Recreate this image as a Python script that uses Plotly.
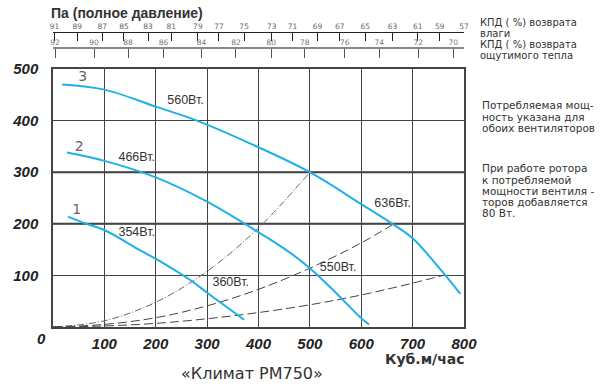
import plotly.graph_objects as go

# ---- data ----
c3_x = [18, 100, 200, 280, 383, 500, 600, 662, 700, 763, 793]
c3_y = [470, 460, 427, 400, 356, 300, 238, 199, 172, 101, 64]
c2_x = [27, 100, 200, 300, 383, 450, 500, 550, 600, 615]
c2_y = [338, 322, 290, 243, 194, 152, 114, 67, 17, 5]
c1_x = [29, 65, 100, 169, 202, 267, 302, 372]
c1_y = [214, 200, 188, 149, 131, 91, 65, 14]

sysA_x = [0, 100, 200, 300, 400, 500]
sysA_y = [0, 12, 48, 108, 192, 300]
sysB_x = [0, 100, 200, 300, 400, 500, 600, 662]
sysB_y = [0, 5, 18, 41, 73, 114, 163, 199]
sysC_x = [0, 100, 200, 300, 400, 500, 600, 700, 763]
sysC_y = [0, 2, 7, 16, 28, 43, 62, 85, 101]

curve_names = ["1", "2", "3"]
curve_name_x = [46, 51, 58]
curve_name_y = [225, 347, 483]

watt_labels = ["560Вт.", "466Вт.", "354Вт.", "360Вт.", "550Вт.", "636Вт."]
watt_x = [258, 163, 163, 346, 555, 661]
watt_y = [439, 327, 183, 85, 115, 238]

x_ticks = [100, 200, 300, 400, 500, 600, 700, 800]
y_ticks = [100, 200, 300, 400, 500]

hum_labels = [91, 89, 87, 85, 83, 81, 79, 77, 75, 73, 71, 69, 67, 65, 63, 61, 59, 57]
hum_pos = [3, 47, 96, 138, 185, 230, 282, 323, 372, 426, 466, 515, 558, 608, 661, 710, 753, 800]
heat_labels = [92, 90, 88, 86, 84, 82, 80, 78, 76, 74, 72, 70]
heat_pos = [4, 80, 146, 215, 289, 356, 425, 490, 568, 635, 711, 779]

thick_grid_y = [200, 300]

BLUE = "#1fb0e6"
TXT = "#333333"

fig = go.Figure()
for xs, ys, d, col in [(sysA_x, sysA_y, "7px,2px,1px,2px", "#666666"),
                       (sysB_x, sysB_y, "9px,4px", "#444444"),
                       (sysC_x, sysC_y, "9px,4px", "#444444")]:
    fig.add_trace(go.Scatter(x=xs, y=ys, mode="lines", line=dict(color=col, width=1, dash=d, shape="spline"),
                             hoverinfo="skip", showlegend=False))
for xs, ys in [(c1_x, c1_y), (c2_x, c2_y), (c3_x, c3_y)]:
    fig.add_trace(go.Scatter(x=xs, y=ys, mode="lines", line=dict(color=BLUE, width=2, shape="spline"),
                             showlegend=False))
fig.add_trace(go.Scatter(x=curve_name_x, y=curve_name_y, mode="text", text=curve_names,
                         textfont=dict(family="DejaVu Sans", size=14, color="#666666"), showlegend=False))
fig.add_trace(go.Scatter(x=watt_x, y=watt_y, mode="text", text=watt_labels,
                         textfont=dict(family="Liberation Sans", size=12.5, color=TXT), showlegend=False))
# invisible traces for the top scales
fig.add_trace(go.Scatter(x=[0, 800], y=[0, 0], xaxis="x2", mode="markers", marker=dict(opacity=0), showlegend=False, hoverinfo="skip"))
fig.add_trace(go.Scatter(x=[0, 800], y=[0, 0], xaxis="x3", mode="markers", marker=dict(opacity=0), showlegend=False, hoverinfo="skip"))

for gy in thick_grid_y:
    fig.add_shape(type="line", xref="x", yref="y", x0=0, x1=800, y0=gy, y1=gy,
                  line=dict(color="#333333", width=2), layer="below")

tickfont = dict(family="Liberation Sans", size=15, color="#222222", weight="bold", style="italic")

fig.update_layout(
    width=600, height=386,
    margin=dict(l=53, r=136, t=20, b=59),
    paper_bgcolor="white", plot_bgcolor="white",
    xaxis=dict(range=[0, 800], tickvals=x_ticks, showgrid=True, gridcolor="#444444", gridwidth=1,
               showline=True, linecolor="#444444", linewidth=1.5, mirror=True, zeroline=False,
               tickfont=tickfont, ticks="", ticklabelstandoff=2),
    yaxis=dict(range=[0, 500], tickvals=y_ticks, domain=[0, 0.8404], showgrid=True, gridcolor="#444444", gridwidth=1,
               showline=True, linecolor="#444444", linewidth=1.5, mirror=True, zeroline=False,
               tickfont=tickfont, ticks="", ticklabelstandoff=10),
    xaxis2=dict(range=[0, 800], overlaying="x", anchor="free", position=0.96, side="top",
                tickvals=hum_pos, ticktext=[str(v) for v in hum_labels], ticks="inside", ticklen=8,
                tickcolor="#222222", tickwidth=1, showline=True, linecolor="#222222", linewidth=1,
                showgrid=False, zeroline=False, tickfont=dict(family="DejaVu Sans", size=7.5, color="#666666"),
                ticklabelstandoff=0),
    xaxis3=dict(range=[0, 800], overlaying="x", anchor="free", position=0.9078, side="top",
                tickvals=heat_pos, ticktext=[str(v) for v in heat_labels], ticks="inside", ticklen=9,
                tickcolor="#555555", tickwidth=1.2, showline=True, linecolor="#888888", linewidth=1.5,
                showgrid=False, zeroline=False, tickfont=dict(family="DejaVu Sans", size=7.5, color="#777777"),
                ticklabelstandoff=0),
)

def ann(text, x, y, size, xanchor="left", color=TXT, weight="normal", family="DejaVu Sans", style="normal"):
    fig.add_annotation(text=text, xref="paper", yref="paper", x=x, y=y, showarrow=False,
                       xanchor=xanchor, yanchor="middle",
                       font=dict(family=family, size=size, color=color, weight=weight, style=style))

# paper coordinate helpers (plot area x: 53..464 px, paper y: 20..327 px)
def px(xp):
    return (xp - 53) / 411.0
def py(yp):
    return (327 - yp) / 307.0

ann("Па (полное давление)", px(49), py(13), 14, weight="bold", color="#333333", family="Liberation Sans")
ann("КПД ( %) возврата", px(478), py(22.5), 10)
ann("влаги", px(478), py(33.5), 10)
ann("КПД ( %) возврата", px(478), py(44.5), 10)
ann("ощутимого тепла", px(478), py(55.5), 10)

notes1 = ["Потребляемая мощ-", "ность указана для", "обоих вентиляторов"]
notes1_y = [105, 116.5, 128]
for t, yy in zip(notes1, notes1_y):
    ann(t, px(480), py(yy), 10.5)
notes2 = ["При работе ротора", "к потребляемой", "мощности вентиля -", "торов добавляется", "80 Вт."]
notes2_y = [168, 179.5, 191, 202, 213]
for t, yy in zip(notes2, notes2_y):
    ann(t, px(480), py(yy), 10.5)

ann("0", px(41), py(338), 15, xanchor="center", color="#222222", family="Liberation Sans", weight="bold", style="italic")
ann("Куб.м/час", px(425), py(359), 14, xanchor="center", weight="bold", color="#333333")
ann("«Климат PM750»", px(252), py(373), 16, xanchor="center", color="#333333")

fig.write_html("out.html", config={"displayModeBar": False},
               post_script="document.body.style.margin='0px';")
